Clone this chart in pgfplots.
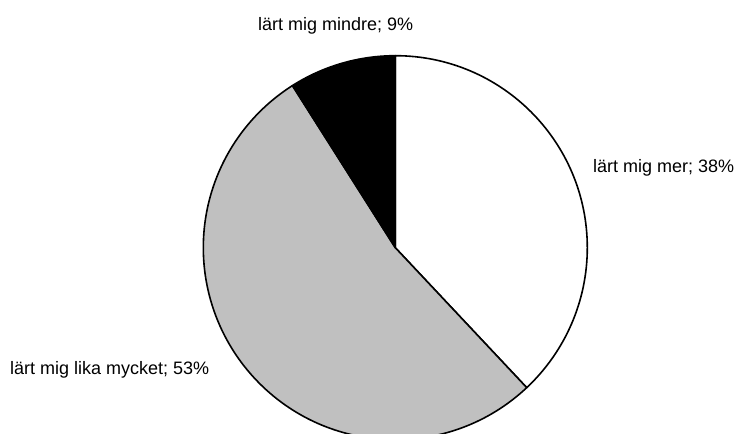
\documentclass[border=0pt]{standalone}
\usepackage{fontspec}
\setmainfont{Liberation Sans}
\usepackage{pgfplots}
\usepackage{pgfplotstable}
\pgfplotsset{compat=1.18}

\definecolor{sliceGray}{RGB}{192,192,192}

% Pie slices, clockwise from twelve o'clock; lx/ly place each label (baseline, left end)
\pgfplotstableread[col sep=comma]{
label,value,shade,lx,ly
lärt mig mer,38,white,593,261
lärt mig lika mycket,53,sliceGray,10,59
lärt mig mindre,9,black,258,403.5
}\piedata

\begin{document}
\begin{tikzpicture}
\begin{axis}[
  name=ax,
  scale only axis,
  width=734bp, height=434bp,
  xmin=0, xmax=734, ymin=0, ymax=434,
  hide axis,
  clip=true,
]
\pgfplotstablegetrowsof{\piedata}
\pgfmathtruncatemacro\lastrow{\pgfplotsretval-1}
\def\startangle{90}
\pgfplotsforeachungrouped \i in {0,...,\lastrow}{%
  \pgfplotstablegetelem{\i}{value}\of\piedata \let\val\pgfplotsretval
  \pgfplotstablegetelem{\i}{shade}\of\piedata \let\shade\pgfplotsretval
  \pgfplotstablegetelem{\i}{label}\of\piedata \let\lbl\pgfplotsretval
  \pgfplotstablegetelem{\i}{lx}\of\piedata \let\lx\pgfplotsretval
  \pgfplotstablegetelem{\i}{ly}\of\piedata \let\ly\pgfplotsretval
  \pgfmathsetmacro\endangle{\startangle-3.6*\val}%
  \edef\temp{%
    \noexpand\filldraw[fill=\shade, draw=black, line width=1.6bp, line join=round]
      (axis cs:395.3,186.3) -- ++(\startangle:192bp)
      arc[start angle=\startangle, end angle=\endangle, radius=192bp] -- cycle;
    \noexpand\node[anchor=base west, inner sep=0pt,
      font=\noexpand\fontsize{18bp}{21bp}\noexpand\selectfont]
      at (axis cs:\lx,\ly) {\lbl; \val\noexpand\%};
  }%
  \temp
  \global\let\startangle\endangle
}
\end{axis}
\pgfresetboundingbox
\useasboundingbox (ax.south west) rectangle (ax.north east);
\end{tikzpicture}
\end{document}
